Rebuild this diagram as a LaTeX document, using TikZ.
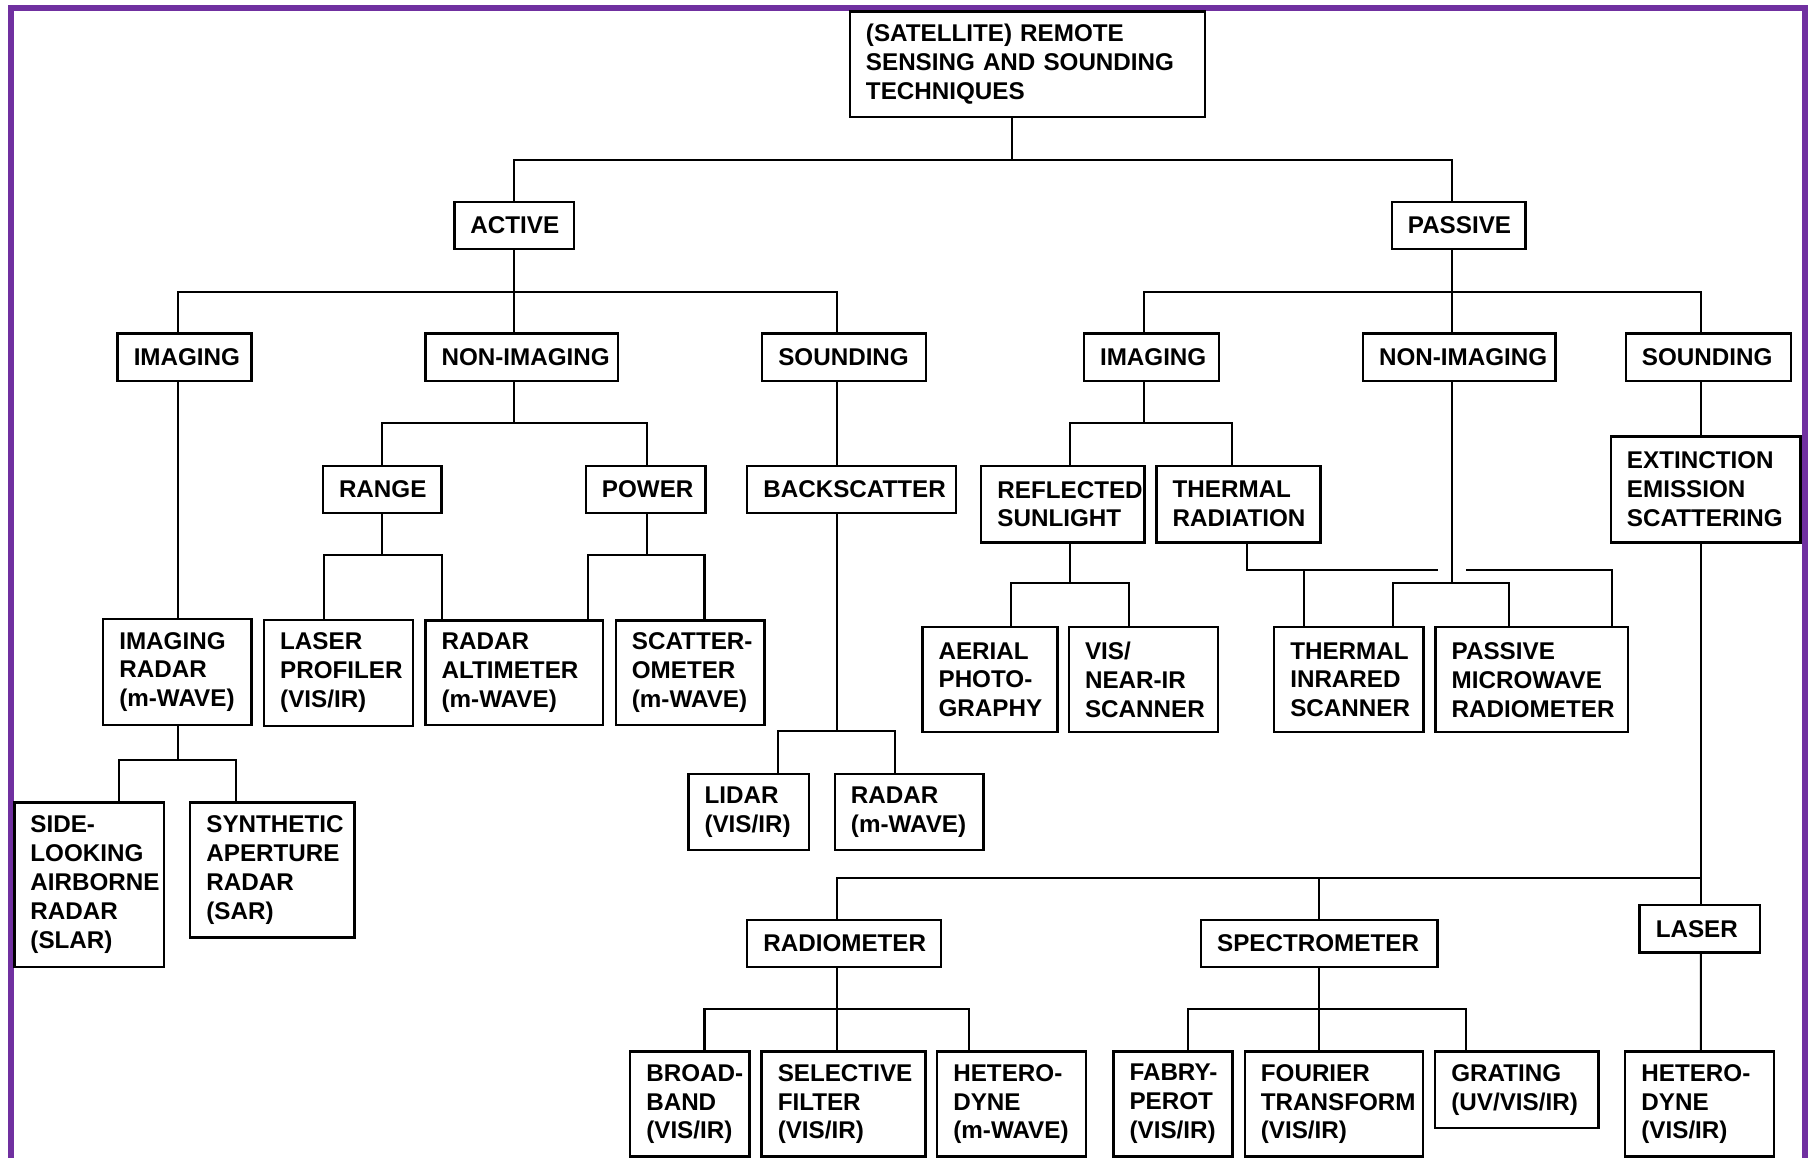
\documentclass[tikz,border=0pt]{standalone}
\usepackage{fontspec}
\setmainfont{Liberation Sans}
\usetikzlibrary{calc}
\definecolor{bordpurple}{HTML}{7030A0}
\hyphenpenalty=10000
\exhyphenpenalty=10000
\newcommand\boxfont{\bfseries\fontsize{21}{25.1}\selectfont}
\begin{document}
\begin{tikzpicture}[x=1pt,y=-1pt,
  bx/.style={draw, line width=2.1pt, inner xsep=14pt, inner ysep=0pt, align=left,
    anchor=north west, outer sep=0pt, font=\boxfont},
  ln/.style={line width=1.8pt}]
\useasboundingbox (0,0) rectangle (1568,1004);
\fill[white] (0,0) rectangle (1568,1004);
\draw[bordpurple, line width=5.2pt] (9.5,1020) -- (9.5,6.9) -- (1565.2,6.9) -- (1565.2,1020);

% level 0-1
\node[bx, text width=280pt, minimum height=91.7pt] (root) at (737,10) {(SATELLITE) REMOTE\\SENSING AND SOUNDING\\TECHNIQUES};
\node[bx, text width=76pt, minimum height=40.5pt] (act) at (394,175.4) {ACTIVE};
\node[bx, text width=88pt, minimum height=40.5pt] (pas) at (1207,175.4) {PASSIVE};
% level 2
\node[bx, text width=88pt, minimum height=41pt] (aimg) at (102,289.3) {IMAGING};
\node[bx, text width=139pt, minimum height=41pt] (anon) at (369,289.3) {NON-IMAGING};
\node[bx, text width=114pt, minimum height=41pt] (asnd) at (661,289.3) {SOUNDING};
\node[bx, text width=89pt, minimum height=41pt] (pimg) at (940,289.3) {IMAGING};
\node[bx, text width=139pt, minimum height=41pt] (pnon) at (1182,289.3) {NON-IMAGING};
\node[bx, text width=115pt, minimum height=41pt] (psnd) at (1410,289.3) {SOUNDING};
% level 3
\node[bx, text width=75pt, minimum height=41pt] (range) at (280,404) {RANGE};
\node[bx, text width=76pt, minimum height=41pt] (power) at (508,404) {POWER};
\node[bx, text width=153pt, minimum height=41pt] (backsc) at (648,404) {BACKSCATTER};
\node[bx, text width=113.7pt, minimum height=66.5pt] (refl) at (851,404) {REFLECTED\\SUNLIGHT};
\node[bx, text width=114.3pt, minimum height=66.5pt] (thrad) at (1003,404) {THERMAL\\RADIATION};
\node[bx, text width=136.6pt, minimum height=92pt] (ext) at (1397,378.6) {EXTINCTION\\EMISSION\\SCATTERING};
% level 4
\node[bx, text width=100.5pt, minimum height=92.4pt] (imgradar) at (89.5,536.6) {IMAGING\\RADAR\\(m-WAVE)};
\node[bx, text width=101pt, minimum height=92pt] (laserp) at (229,537.6) {LASER\\PROFILER\\(VIS/IR)};
\node[bx, text width=126pt, minimum height=90.7pt] (altim) at (369,538) {RADAR\\ALTIMETER\\(m-WAVE)};
\node[bx, text width=101pt, minimum height=90.7pt] (scatt) at (534,538) {SCATTER-\\OMETER\\(m-WAVE)};
\node[bx, text width=89pt, minimum height=91pt] (aerial) at (800,544) {AERIAL\\PHOTO-\\GRAPHY};
\node[bx, text width=101.5pt, minimum height=91pt] (visnir) at (927,544) {VIS/\\NEAR-IR\\SCANNER};
\node[bx, text width=101.5pt, minimum height=91pt] (thir) at (1105,544) {THERMAL\\INRARED\\SCANNER};
\node[bx, text width=139pt, minimum height=91pt] (pmw) at (1245,544) {PASSIVE\\MICROWAVE\\RADIOMETER};
% level 5
\node[bx, text width=102pt, minimum height=142.5pt] (slar) at (12.4,696) {SIDE-\\LOOKING\\AIRBORNE\\RADAR\\(SLAR)};
\node[bx, text width=114.6pt, minimum height=117pt] (sar) at (165,696) {SYNTHETIC\\APERTURE\\RADAR\\(SAR)};
\node[bx, text width=76.5pt, minimum height=66pt] (lidar) at (597,671) {LIDAR\\(VIS/IR)};
\node[bx, text width=101pt, minimum height=66pt] (radarm) at (724,671) {RADAR\\(m-WAVE)};
% instruments
\node[bx, text width=140pt, minimum height=40.5pt] (radiom) at (648,798) {RADIOMETER};
\node[bx, text width=177.2pt, minimum height=40.8pt] (spectr) at (1041.6,797.7) {SPECTROMETER};
\node[bx, text width=76.5pt, minimum height=41pt] (laserb) at (1422,785) {LASER};
\node[bx, text width=75.5pt, minimum height=91pt] (broad) at (546.5,912) {BROAD-\\BAND\\(VIS/IR)};
\node[bx, text width=114pt, minimum height=91pt] (selec) at (660.5,912) {SELECTIVE\\FILTER\\(VIS/IR)};
\node[bx, text width=101.2pt, minimum height=91pt] (hetm) at (812.8,912) {HETERO-\\DYNE\\(m-WAVE)};
\node[bx, text width=75.4pt, minimum height=91pt] (fabry) at (965.6,912) {FABRY-\\PEROT\\(VIS/IR)};
\node[bx, text width=126.5pt, minimum height=91pt] (fourier) at (1079.5,912) {FOURIER\\TRANSFORM\\(VIS/IR)};
\node[bx, text width=113.7pt, minimum height=66pt] (grating) at (1244.7,912) {GRATING\\(UV/VIS/IR)};
\node[bx, text width=101.2pt, minimum height=91pt] (hetvis) at (1409.5,912) {HETERO-\\DYNE\\(VIS/IR)};

% connectors
\newcommand\conn[5]{\draw[ln] ([xshift=#2pt]#1.south) -- ++(0,#3) -| ([xshift=#5pt]#4.north);}
\conn{root}{-13}{37}{act}{0}
\conn{root}{-13}{37}{pas}{-6}
\conn{act}{0}{37.1}{aimg}{-6}
\conn{act}{0}{37.1}{anon}{-6.5}
\conn{act}{0}{37.1}{asnd}{-6}
\conn{pas}{-6}{37.1}{pimg}{-6.5}
\conn{pas}{-6}{37.1}{pnon}{-6.5}
\conn{pas}{-6}{37.1}{psnd}{-6.5}
\conn{anon}{-6.5}{36.7}{range}{-0.5}
\conn{anon}{-6.5}{36.7}{power}{1}
\draw[ln] ([xshift=-6pt]asnd.south) -- ([xshift=-12.5pt]backsc.north);
\draw[ln] ([xshift=-6pt]aimg.south) -- ([xshift=0.25pt]imgradar.north);
\conn{range}{-0.5}{36}{laserp}{-12.5}
\conn{range}{-0.5}{36}{altim}{-63}
\conn{power}{1}{36}{altim}{64}
\conn{power}{1}{36}{scatt}{12.5}
\conn{imgradar}{0.25}{30}{slar}{25.6}
\conn{imgradar}{0.25}{30}{sar}{-31.7}
\conn{backsc}{-12.5}{189}{lidar}{25.75}
\conn{backsc}{-12.5}{189}{radarm}{-12.5}
\conn{pimg}{-6.5}{36.7}{refl}{6}
\conn{pimg}{-6.5}{36.7}{thrad}{-6}
\conn{refl}{6}{35.5}{aerial}{18.5}
\conn{refl}{6}{35.5}{visnir}{-12.75}
\conn{pnon}{-6.5}{175.7}{thir}{38.25}
\conn{pnon}{-6.5}{175.7}{pmw}{-19.5}
% thermal radiation with line hop over the non-imaging stem
\coordinate (tj) at ([xshift=7pt,yshift=-23.7pt]thrad.south);
\coordinate (vline) at ([xshift=-6.5pt]pnon.south);
\coordinate (thirL) at ([xshift=-38.75pt]thir.north);
\draw[ln] ([xshift=7pt]thrad.south) -- (tj) -- ($(tj -| vline)+(-12,0)$);
\draw[ln] ($(tj -| vline)+(12.4,0)$) -| ([xshift=69.5pt]pmw.north);
\draw[ln] (tj -| thirL) -- (thirL);
\draw[ln] ([xshift=-6.5pt]psnd.south) -- ([xshift=-4.3pt]ext.north);
\conn{ext}{-4.3}{290.5}{radiom}{-6}
\conn{ext}{-4.3}{290.5}{spectr}{0}
\conn{ext}{-4.3}{290.5}{laserb}{0.75}
\conn{radiom}{-6}{36.5}{broad}{12.75}
\conn{radiom}{-6}{36.5}{selec}{-5.5}
\conn{radiom}{-6}{36.5}{hetm}{-37.4}
\conn{spectr}{0}{36.5}{fabry}{12.7}
\conn{spectr}{0}{36.5}{fourier}{-12.75}
\conn{spectr}{0}{36.5}{grating}{-44.5}
\draw[ln] ([xshift=0.75pt]laserb.south) -- ([xshift=1pt]hetvis.north);
\end{tikzpicture}
\end{document}
